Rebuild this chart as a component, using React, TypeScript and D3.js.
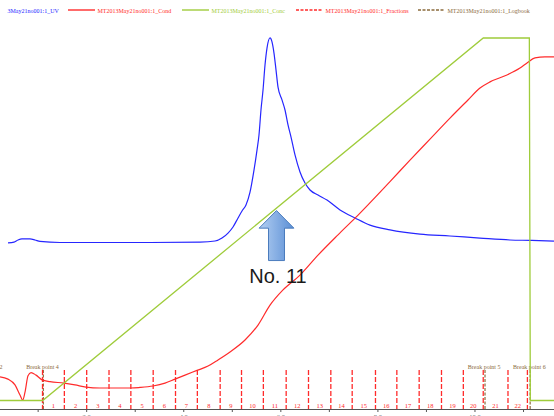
import * as d3 from 'd3';

const W = 554;
const H = 416;

// UV 280 nm trace: [volume ml, mAU]
const uvPoints: [number, number][] = [
  [0.379, -2], [0.503, 2], [0.585, 12], [0.667, 17], [0.832, 17], [0.935, 12], [1.038, 5],
  [1.45, 0], [2.274, 0], [3.305, 0], [4.335, 2], [4.644, 7], [4.788, 21], [4.912, 45],
  [5.015, 74], [5.118, 117], [5.2, 150], [5.282, 179], [5.365, 240], [5.447, 345],
  [5.509, 440], [5.55, 512], [5.591, 631], [5.633, 726], [5.674, 845], [5.715, 926],
  [5.777, 974], [5.818, 955], [5.859, 902], [5.901, 821], [5.942, 740], [6.024, 679],
  [6.086, 631], [6.148, 560], [6.21, 502], [6.292, 417], [6.395, 336], [6.498, 283],
  [6.601, 250], [6.766, 226], [6.951, 202], [7.219, 155], [7.528, 117], [7.837, 83],
  [8.249, 60], [8.867, 40], [9.485, 31], [10.103, 21], [10.721, 12], [11.133, 10], [11.628, 7],
];

// conductivity: [volume ml, % of range]
const condPoints: [number, number][] = [
  [0.214, 6.5], [0.379, 5.9], [0.523, 4.3], [0.626, 1.5], [0.682, 0.1], [0.729, 2.3],
  [0.791, 6.8], [0.853, 7.7], [0.956, 7.0], [1.08, 5.7], [1.244, 5.2], [1.533, 4.8],
  [1.759, 4.3], [1.986, 3.7], [2.274, 3.45], [2.913, 3.45], [3.099, 3.6], [3.366, 4.0],
  [3.614, 4.8], [3.82, 5.9], [4.026, 7.0], [4.273, 8.3], [4.5, 9.5], [4.706, 11.2],
  [4.953, 13.4], [5.262, 16.7], [5.53, 20.8], [5.777, 26.3], [6.045, 30.5], [6.395, 34.6],
  [6.766, 40.1], [7.178, 45.7], [7.528, 50.3], [8.249, 60.4], [8.661, 66.3], [9.073, 72.1],
  [9.485, 77.9], [9.856, 82.9], [10.103, 86.2], [10.309, 87.9], [10.659, 89.8],
  [10.927, 91.7], [11.072, 93.1], [11.236, 94.5], [11.442, 94.8], [11.628, 94.8],
];

// concentration %B
const concPoints: [number, number][] = [
  [0.214, 0], [1.094, 0], [10.171, 100], [11.12, 100], [11.14, 0], [11.628, 0],
];

const fractionEdges = [
  1.09, 1.54, 2.0, 2.46, 2.91, 3.37, 3.83, 4.28, 4.75, 5.19, 5.64, 6.11,
  6.57, 7.03, 7.47, 7.95, 8.39, 8.85, 9.31, 9.76, 10.17, 10.68, 11.08,
];
const fractionNames = [
  '1', '2', '3', '4', '5', '6', '7', '8', '9', '10', '11',
  '12', '13', '14', '15', '16', '17', '18', '19', '20', '21', '22',
];

const logbookVolumes = [-0.07, 1.09, 10.19, 11.12];
const logbookNames = ['Break point 2', 'Break point 4', 'Break point 5', 'Break point 6'];

const tickValues = [1, 2, 3, 4, 5, 6, 7, 8, 9, 10, 11];
const tickLabels = ['', '2.0', '', '4.0', '', '6.0', '', '8.0', '', '10.0', ''];

const legendNames = [
  'MT2013May21no001:1_UV',
  'MT2013May21no001:1_Cond',
  'MT2013May21no001:1_Conc',
  'MT2013May21no001:1_Fractions',
  'MT2013May21no001:1_Logbook',
];
const legendStarts = [-40, 68, 182, 296, 418];

const BLUE = '#2626ff';
const RED = '#ff2b2b';
const GREEN = '#9fcc3b';
const BROWN = '#8b6b3d';

export default function App() {
  const x = d3.scaleLinear().domain([0.214, 11.628]).range([0, W]);
  const yUV = d3.scaleLinear().domain([0, 1000]).range([242.5, 32.5]);
  const yPct = d3.scaleLinear().domain([0, 100]).range([400.5, 38]);

  const uvLine = d3.line<[number, number]>()
    .x(d => x(d[0])).y(d => yUV(d[1])).curve(d3.curveMonotoneX);
  const condLine = d3.line<[number, number]>()
    .x(d => x(d[0])).y(d => yPct(d[1])).curve(d3.curveMonotoneX);
  const concLine = d3.line<[number, number]>()
    .x(d => x(d[0])).y(d => yPct(d[1]));

  const axisY = 409.5;
  const fracTop = 370;
  const legendColors = [BLUE, RED, GREEN, RED, BROWN];
  const legendDash = [null, null, null, '3,1.5', '3,1.5'];

  // annotation arrow, tip sits just under the gradient line
  const tipX = x(5.911);
  const tipY = yPct(52.4);
  const arrowPath = `M${tipX},${tipY} L${tipX + 17.4},${tipY + 17.6} L${tipX + 8},${tipY + 17.6}
    L${tipX + 8},${tipY + 50} L${tipX - 8},${tipY + 50} L${tipX - 8},${tipY + 17.6}
    L${tipX - 17.4},${tipY + 17.6} Z`;

  return (
    <div style={{ position: 'absolute', left: 0, top: 0 }}>
      <svg width={W} height={H} style={{ display: 'block', background: '#fff' }}
        fontFamily="'Liberation Serif', serif">
        <defs>
          <linearGradient id="arrowFill" x1="0" x2="1" y1="0" y2="0">
            <stop offset="0" stopColor="#b3cff2" />
            <stop offset="1" stopColor="#5a8ed5" />
          </linearGradient>
          <clipPath id="legendClip">
            <rect x={7} y={0} width={W - 7} height={20} />
          </clipPath>
        </defs>

        {/* legend */}
        <g clipPath="url(#legendClip)">
          {legendNames.map((n, i) => (
            <g key={n}>
              <line x1={legendStarts[i]} x2={legendStarts[i] + 27} y1={10} y2={10}
                stroke={legendColors[i]} strokeWidth={1.4}
                strokeDasharray={legendDash[i] ?? undefined} />
              <text x={legendStarts[i] + 29.5} y={13} fontSize={6} fill={legendColors[i]}>{n}</text>
            </g>
          ))}
        </g>

        {/* logbook marks */}
        {logbookVolumes.map((v, i) => (
          <g key={logbookNames[i]}>
            <line x1={x(v) + 0.8} x2={x(v) + 0.8} y1={fracTop} y2={axisY}
              stroke={BROWN} strokeWidth={1.2} strokeDasharray="3,1.5" />
            <text x={x(v)} y={368.5} fontSize={6} textAnchor="middle" fill={BROWN}>
              {logbookNames[i]}
            </text>
          </g>
        ))}

        {/* fractions */}
        {fractionEdges.map(v => (
          <line key={v} x1={x(v)} x2={x(v)} y1={fracTop} y2={axisY}
            stroke={RED} strokeWidth={1.3} strokeDasharray="5,2" />
        ))}
        {fractionNames.map((n, i) => (
          <text key={n} x={(x(fractionEdges[i]) + x(fractionEdges[i + 1])) / 2} y={407.5}
            fontSize={6.5} textAnchor="middle" fill={RED}>{n}</text>
        ))}

        {/* axis */}
        <line x1={0} x2={W} y1={axisY} y2={axisY} stroke="#555" strokeWidth={1} />
        {tickValues.map((t, i) => (
          <g key={t}>
            <line x1={x(t)} x2={x(t)} y1={axisY} y2={axisY + 2.5} stroke="#555" />
            <text x={x(t)} y={419} fontSize={6.5} textAnchor="middle" fill="#666">{tickLabels[i]}</text>
          </g>
        ))}

        {/* curves */}
        <path d={uvLine(uvPoints) ?? ''} fill="none" stroke={BLUE} strokeWidth={1.2} />
        <path d={condLine(condPoints) ?? ''} fill="none" stroke={RED} strokeWidth={1.2} />
        <path d={concLine(concPoints) ?? ''} fill="none" stroke={GREEN} strokeWidth={1.3} />

        {/* annotation */}
        <path d={arrowPath} fill="url(#arrowFill)" stroke="#4b7cbd" strokeWidth={1}
          strokeLinejoin="round" />
        <text x={tipX + 1.5} y={283} fontSize={20} textAnchor="middle" fill="#1a1a1a"
          fontFamily="'Liberation Sans', Arial, sans-serif">No. 11</text>
      </svg>
    </div>
  );
}
